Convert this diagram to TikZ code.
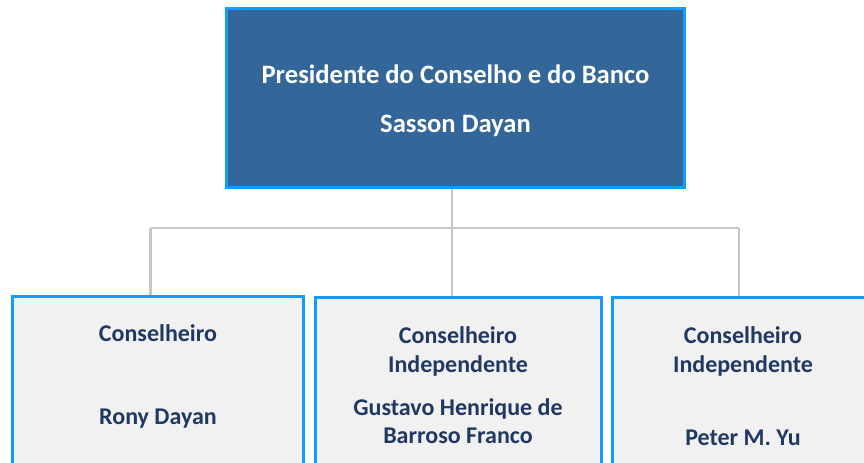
\documentclass[tikz,border=0pt]{standalone}
\usepackage{fontspec}
\setmainfont{Carlito}
\usepackage{tikz}
\usetikzlibrary{shapes,arrows}
\definecolor{boxblue}{RGB}{51,102,153}
\definecolor{edgeblue}{RGB}{20,155,255}
\definecolor{boxgray}{RGB}{241,241,241}
\definecolor{namecol}{RGB}{31,56,100}
\definecolor{linkgray}{RGB}{198,198,198}
\tikzstyle{headbox} = [rectangle, draw=edgeblue, fill=boxblue, line width=1.5pt,
    minimum width=229pt, minimum height=89.5pt, inner sep=0pt]
\tikzstyle{memberbox} = [rectangle, draw=edgeblue, fill=boxgray, line width=1.5pt,
    minimum height=91.75pt, inner sep=0pt, overlay]
\tikzstyle{headtext} = [anchor=base, text=white, font=\bfseries\fontsize{13.3}{15}\selectfont, inner sep=0pt]
\tikzstyle{membertext} = [anchor=base, text=namecol, font=\bfseries\fontsize{12}{14}\selectfont, inner sep=0pt]
\tikzstyle{line} = [draw, linkgray, line width=1.35pt]

\begin{document}
\begin{tikzpicture}[x=0.5pt, y=-0.5pt]
    \useasboundingbox (0,0) rectangle (864,462);
    \clip (0,0) rectangle (864,462);
    % Place nodes
    \node [headbox] at (455.5,98) (pres) {};
    \node [memberbox, minimum width=145.5pt] at (158,388.25) (rony) {};
    \node [memberbox, minimum width=143pt] at (458.5,389.25) (gustavo) {};
    \node [memberbox, minimum width=143.75pt] at (756.25,389.25) (peter) {};
    % Texts
    \node [headtext] at (455.5,83) (pres1) {Presidente do Conselho e do Banco};
    \node [headtext] at (455.5,132) (pres2) {Sasson Dayan};
    \node [membertext] at (158,341) (rony1) {Conselheiro};
    \node [membertext] at (158,424) (rony2) {Rony Dayan};
    \node [membertext] at (458,343) (gustavo1) {Conselheiro};
    \node [membertext] at (458,372) (gustavo2) {Independente};
    \node [membertext] at (458,415) (gustavo3) {Gustavo Henrique de};
    \node [membertext] at (458,443) (gustavo4) {Barroso Franco};
    \node [membertext] at (743,343) (peter1) {Conselheiro};
    \node [membertext] at (743,372) (peter2) {Independente};
    \node [membertext] at (743,445) (peter3) {Peter M. Yu};
    % Draw edges
    \coordinate (jl) at (150.5,228);
    \coordinate (jm) at (452,228);
    \coordinate (jr) at (739,228);
    \path [line] (jm |- pres.south) -- (jm);
    \path [line] (jl) -- (jr);
    \path [line] (jl) -- (jl |- rony.north);
    \path [line] (jm) -- (jm |- gustavo.north);
    \path [line] (jr) -- (jr |- peter.north);
\end{tikzpicture}
\end{document}
